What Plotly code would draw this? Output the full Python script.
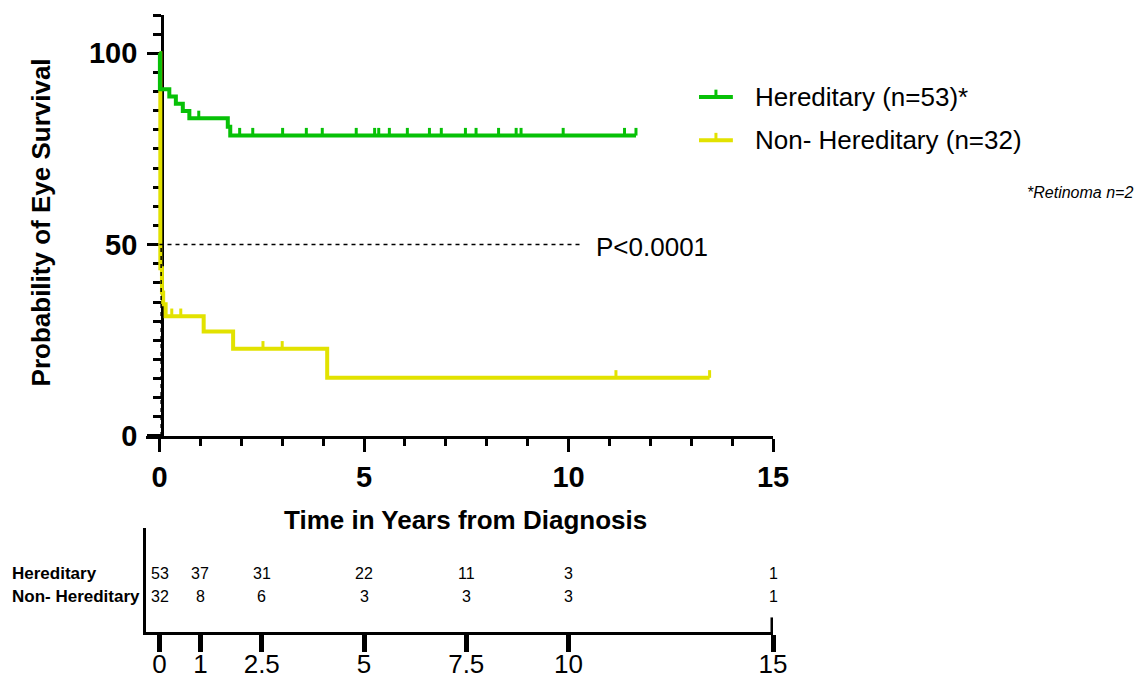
import plotly.graph_objects as go

# ---------------- data ----------------
her_times = [0, 0.01, 0.24, 0.40, 0.57, 0.73, 1.67, 1.73, 11.65]
her_surv = [100, 90.6, 88.7, 86.8, 84.9, 83.0, 80.8, 78.5, 78.5]
her_censor = [0.96, 1.96, 2.28, 3.01, 3.59, 3.98, 4.81, 5.26, 5.36, 5.62, 6.06,
              6.60, 6.89, 7.48, 7.74, 8.29, 8.72, 8.84, 9.87, 11.37, 11.65]

non_times = [0, 0.02, 0.06, 0.09, 0.15, 1.08, 1.80, 4.10, 13.45]
non_surv = [100, 43.8, 37.5, 34.4, 31.3, 27.3, 22.8, 15.2, 15.2]
non_censor = [0.30, 0.52, 2.53, 3.00, 11.16, 13.45]

risk_times = [0, 1, 2.5, 5, 7.5, 10, 15]
risk_labels = ["0", "1", "2.5", "5", "7.5", "10", "15"]
her_risk = [53, 37, 31, 22, 11, 3, 1]
non_risk = [32, 8, 6, 3, 3, 3, 1]

her_name = "Hereditary (n=53)*"
non_name = "Non- Hereditary (n=32)"
row_names = ["Hereditary", "Non- Hereditary"]
p_text = "P<0.0001"
note_text = "*Retinoma n=2"
median_line_end = 10.35

GREEN = "#07C107"
YELLOW = "#E2E200"
FONT = "Liberation Sans, Arial, sans-serif"


def surv_at(t, times, surv):
    s = surv[0]
    for ti, si in zip(times, surv):
        if ti <= t:
            s = si
    return s


def censor_xy(cens, times, surv, h=2.0):
    xs, ys = [], []
    for c in cens:
        s = surv_at(c, times, surv)
        xs += [c, c, None]
        ys += [s, s + h, None]
    return xs, ys


fig = go.Figure()

for times, surv, cens, col in [(non_times, non_surv, non_censor, YELLOW),
                               (her_times, her_surv, her_censor, GREEN)]:
    fig.add_trace(go.Scatter(x=times, y=surv, mode="lines",
                             line=dict(color=col, width=4, shape="hv"),
                             showlegend=False, hoverinfo="skip"))
    cx, cy = censor_xy(cens, times, surv)
    fig.add_trace(go.Scatter(x=cx, y=cy, mode="lines",
                             line=dict(color=col, width=3),
                             showlegend=False, hoverinfo="skip"))

# median of non-hereditary
median_t = next(t for t, s in zip(non_times, non_surv) if s <= 50) + 0.02

XR = [-0.33, 15]
fig.update_layout(
    width=1146, height=682,
    margin=dict(l=146, r=373, t=15, b=50, autoexpand=False),
    paper_bgcolor="white", plot_bgcolor="white",
    showlegend=False,
    font=dict(family=FONT, color="black"),
    xaxis=dict(domain=[0, 1], range=XR, anchor="y", showline=True, linewidth=3,
               linecolor="black", showgrid=False, zeroline=False, automargin=False,
               ticks="outside", ticklen=13, tickwidth=3, tickcolor="black",
               tickvals=[0, 5, 10, 15],
               tickfont=dict(size=29, family=FONT, weight="bold"),
               minor=dict(dtick=1, ticks="outside", ticklen=7, tickwidth=3,
                          tickcolor="black", showgrid=False),
               layer="below traces"),
    yaxis=dict(domain=[0.3177, 1], range=[0, 110], anchor="free", position=0.0257,
               showline=True, linewidth=3, linecolor="black", showgrid=False,
               zeroline=False, automargin=False, ticks="outside", ticklen=14,
               tickwidth=3, tickcolor="black", tickvals=[0, 50, 100],
               tickfont=dict(size=29, family=FONT, weight="bold"),
               ticklabelstandoff=4,
               minor=dict(dtick=5, ticks="outside", ticklen=8, tickwidth=3,
                          tickcolor="black", showgrid=False),
               layer="below traces"),
    xaxis2=dict(domain=[0, 1], range=XR, anchor="y2", showline=True, linewidth=3,
                linecolor="black", showgrid=False, zeroline=False, automargin=False,
                ticks="outside", ticklen=17, tickwidth=5, tickcolor="black",
                tickvals=risk_times, ticktext=risk_labels, ticklabelstandoff=-10,
                tickfont=dict(size=26, family=FONT)),
    yaxis2=dict(domain=[0, 0.1686], range=[0, 1], anchor="x2", showline=True,
                linewidth=3, linecolor="black", showgrid=False, zeroline=False,
                automargin=False, showticklabels=False, ticks=""),
)

shapes = [
    dict(type="line", xref="x", yref="y", x0=0, x1=median_line_end, y0=50, y1=50,
         line=dict(color="black", width=1.5, dash="4px,4px")),
    dict(type="line", xref="x", yref="y", x0=median_t, x1=median_t, y0=0, y1=50,
         line=dict(color="black", width=1.5, dash="4px,4px")),
    dict(type="line", xref="x2", yref="y2", x0=15, x1=15, y0=0, y1=0.14,
         line=dict(color="black", width=5)),
]
# manual legend samples
for yy, col in [(0.867, GREEN), (0.797, YELLOW)]:
    shapes.append(dict(type="line", xref="paper", yref="paper", x0=0.882, x1=0.936,
                       y0=yy, y1=yy, line=dict(color=col, width=4)))
    shapes.append(dict(type="line", xref="paper", yref="paper", x0=0.909, x1=0.909,
                       y0=yy, y1=yy + 0.012, line=dict(color=col, width=3)))
fig.update_layout(shapes=shapes)

ann = []
ann.append(dict(text=her_name, xref="paper", yref="paper", x=0.968, y=0.867,
                xanchor="left", yanchor="middle", showarrow=False,
                font=dict(size=26, family=FONT)))
ann.append(dict(text=non_name, xref="paper", yref="paper", x=0.968, y=0.797,
                xanchor="left", yanchor="middle", showarrow=False,
                font=dict(size=26, family=FONT)))
ann.append(dict(text="<i>" + note_text + "</i>", xref="paper", yref="paper",
                x=1.577, y=0.713, xanchor="right", yanchor="middle", showarrow=False,
                font=dict(size=16, family=FONT)))
ann.append(dict(text=p_text, xref="x", yref="y", x=10.62, y=49.3, xanchor="left",
                yanchor="middle", showarrow=False, font=dict(size=26, family=FONT)))
ann.append(dict(text="<b>Probability of Eye Survival</b>", xref="paper", yref="paper",
                x=-0.166, y=0.6637, textangle=-90, xanchor="center", yanchor="middle",
                showarrow=False, font=dict(size=26, family=FONT)))
ann.append(dict(text="<b>Time in Years from Diagnosis</b>", xref="paper", yref="paper",
                x=0.510, y=0.1815, xanchor="center", yanchor="middle",
                showarrow=False, font=dict(size=26, family=FONT)))
for name, yy in zip(row_names, [0.567, 0.346]):
    ann.append(dict(text="<b>" + name + "</b>", xref="paper", yref="y2",
                    x=-0.2169, y=yy, xanchor="left", yanchor="middle",
                    showarrow=False, font=dict(size=17, family=FONT)))
for vals, yy in [(her_risk, 0.567), (non_risk, 0.346)]:
    for t, v in zip(risk_times, vals):
        ann.append(dict(text=str(v), xref="x2", yref="y2", x=t, y=yy,
                        xanchor="center", yanchor="middle", showarrow=False,
                        font=dict(size=16, family=FONT)))
fig.update_layout(annotations=ann)

fig.write_html("out.html")
